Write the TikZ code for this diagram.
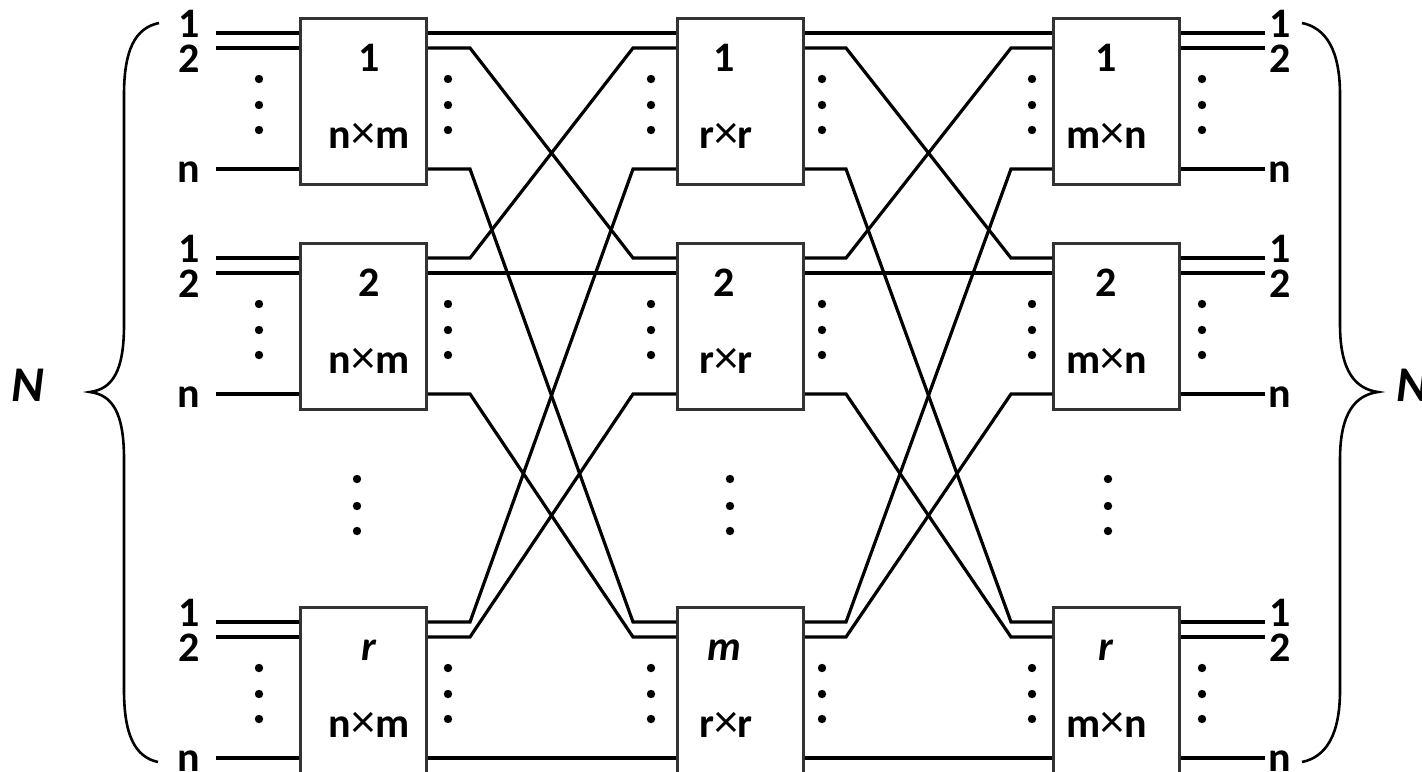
\documentclass[tikz,border=0pt]{standalone}
\usepackage{fontspec}
\setmainfont{Carlito}
\usetikzlibrary{calc}
\newcommand\tms{{\mdseries\fontsize{24}{24}\selectfont ×}}
\begin{document}
\begin{tikzpicture}[x=0.5pt,y=-0.5pt,
  swbox/.style={draw=black!80,line width=1.5pt,fill=white,minimum width=63pt,minimum height=83pt,inner sep=0pt,anchor=north west},
  swboxlast/.style={swbox,minimum height=86pt},
  wire/.style={line width=1.6pt},
  bracepath/.style={line width=1.3pt},
  dotn/.style={circle,fill=black,inner sep=0pt,minimum size=4.2pt},
  lab/.style={font=\bfseries\fontsize{21}{21}\selectfont,anchor=base,inner sep=0pt},
  blab/.style={font=\bfseries\fontsize{21}{21}\selectfont,anchor=base,inner sep=0pt},
  nlab/.style={font=\bfseries\itshape\fontsize{25}{25}\selectfont,anchor=base,inner sep=0pt}]
\useasboundingbox (0,0) rectangle (1422,771);
% boxes and ports
\foreach \c/\x in {L/299,M/676,R/1052}{
  \node[swbox] (\c1) at (\x,17) {};
  \node[swbox] (\c2) at (\x,242) {};
  \node[swboxlast] (\c3) at (\x,606) {};
}
\foreach \c in {L,M,R}{
  \foreach \r in {1,2,3}{
    \coordinate (\c\r-i1) at ($(\c\r.north west)+(0,16)$);
    \coordinate (\c\r-i2) at ($(\c\r.north west)+(0,31)$);
    \coordinate (\c\r-i3) at ($(\c\r.north west)+(0,152)$);
    \coordinate (\c\r-o1) at ($(\c\r.north east)+(0,16)$);
    \coordinate (\c\r-o2) at ($(\c\r.north east)+(0,31)$);
    \coordinate (\c\r-o3) at ($(\c\r.north east)+(0,152)$);
  }
}
% interconnection wires
\foreach \i in {1,2,3}{
  \foreach \j in {1,2,3}{
    \draw[wire] (L\i-o\j) -- ++(42,0) -- ($(M\j-i\i)+(-43,0)$) -- (M\j-i\i);
    \draw[wire] (M\i-o\j) -- ++(41,0) -- ($(R\j-i\i)+(-41,0)$) -- (R\j-i\i);
  }
}
% input and output stubs
\foreach \r in {1,2,3}{
  \foreach \k in {1,2,3}{
    \coordinate (in\r\k) at ($(L\r-i\k)+(-83,0)$);
    \draw[wire] (in\r\k) -- (L\r-i\k);
    \coordinate (out\r\k) at ($(R\r-o\k)+(84,0)$);
    \draw[wire] (R\r-o\k) -- (out\r\k);
  }
}
% side labels
\foreach \r/\t in {1/17,2/242,3/606}{
  \node[lab] (inl\r a) at (189,\t+20) {1};
  \node[lab] (inl\r b) at (189,\t+55) {2};
  \node[lab] (inl\r c) at (189,\t+165) {n};
  \node[lab] (outl\r a) at (1280,\t+20) {1};
  \node[lab] (outl\r b) at (1280,\t+55) {2};
  \node[lab] (outl\r c) at (1280,\t+165) {n};
}
% dots beside boxes
\foreach \t in {17,242,606}{
  \foreach \dx in {259,448,651,822,1032,1202}{
    \node[dotn] (d\dx a\t) at (\dx,\t+62) {};
    \node[dotn] (d\dx b\t) at (\dx,\t+88) {};
    \node[dotn] (d\dx c\t) at (\dx,\t+113) {};
  }
}
% vertical dots between rows
\foreach \dx in {357,730,1108}{
  \node[dotn] (v\dx a) at (\dx,479) {};
  \node[dotn] (v\dx b) at (\dx,506) {};
  \node[dotn] (v\dx c) at (\dx,531) {};
}
% box labels
\node[blab] (L1n) at (369,71) {1};
\node[blab] (L2n) at (369,296) {2};
\node[blab] (L3n) at (369,660) {\itshape r};
\node[blab] (L1s) at (369,148) {n\tms m};
\node[blab] (L2s) at (369,373) {n\tms m};
\node[blab] (L3s) at (369,737) {n\tms m};
\node[blab] (M1n) at (724,71) {1};
\node[blab] (M2n) at (724,296) {2};
\node[blab] (M3n) at (724,660) {\itshape m};
\node[blab] (M1s) at (726,148) {r\tms r};
\node[blab] (M2s) at (726,373) {r\tms r};
\node[blab] (M3s) at (726,737) {r\tms r};
\node[blab] (R1n) at (1106,71) {1};
\node[blab] (R2n) at (1106,296) {2};
\node[blab] (R3n) at (1106,660) {\itshape r};
\node[blab] (R1s) at (1107,148) {m\tms n};
\node[blab] (R2s) at (1107,373) {m\tms n};
\node[blab] (R3s) at (1107,737) {m\tms n};
% braces
\draw[bracepath] (159,23) .. controls (135,28) and (124,50) .. (124,95) -- (124,325)
  .. controls (124,372) and (112,389) .. (90,392)
  .. controls (112,395) and (124,412) .. (124,459) -- (124,690)
  .. controls (124,735) and (135,757) .. (158,762);
\draw[bracepath] (1302,23) .. controls (1326,28) and (1340,50) .. (1340,95) -- (1340,325)
  .. controls (1340,372) and (1356,389) .. (1378,392)
  .. controls (1356,395) and (1340,412) .. (1340,459) -- (1340,690)
  .. controls (1340,735) and (1326,757) .. (1302,762);
\node[nlab] (Nl) at (28,401) {N};
\node[nlab,anchor=base west] (Nr) at (1396,401) {N};
\end{tikzpicture}
\end{document}
